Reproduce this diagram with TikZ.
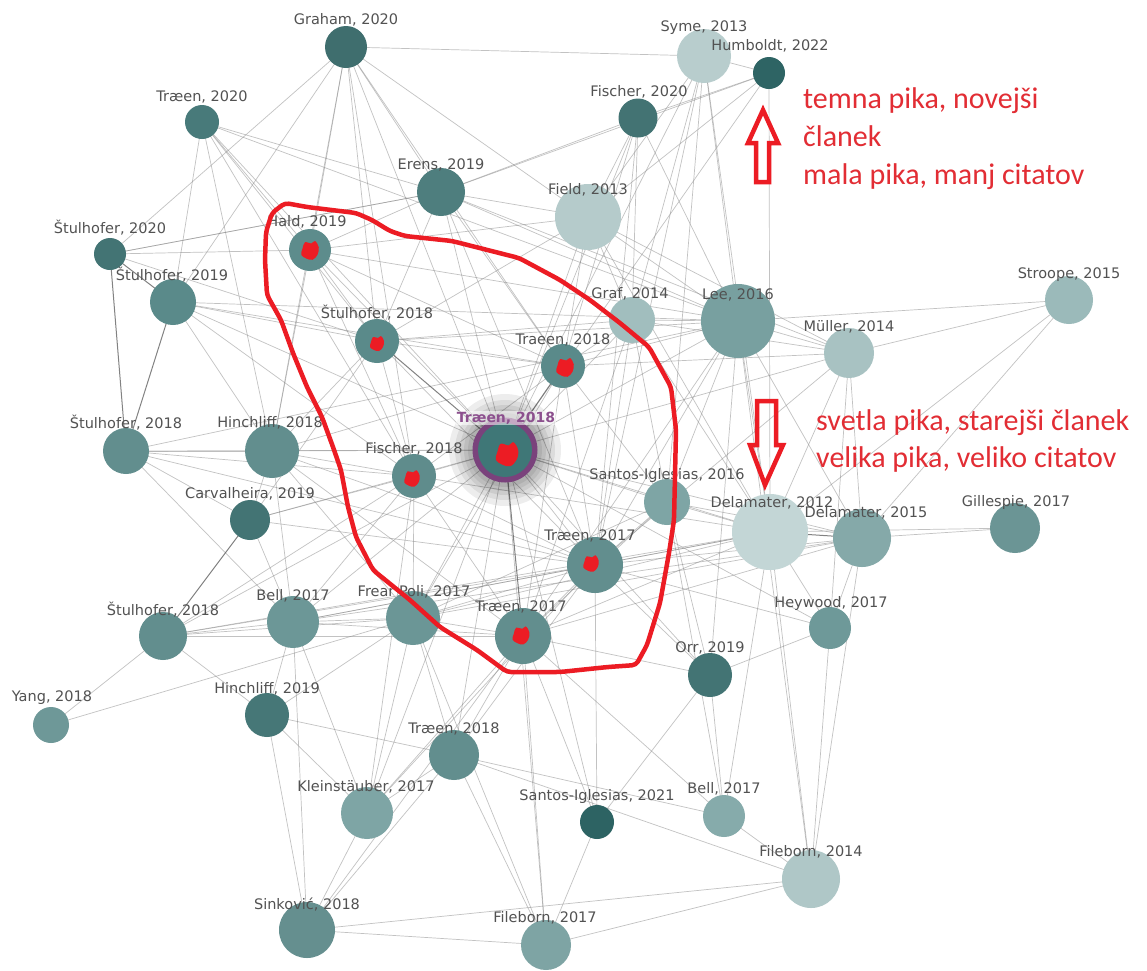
\documentclass[tikz,border=0pt]{standalone}
\usepackage{fontspec}
\setmainfont{DejaVu Sans}
\newfontfamily\redfont{Carlito}
\usetikzlibrary{backgrounds}
\definecolor{lbltxt}{RGB}{82,82,82}
\definecolor{redline}{RGB}{236,28,36}
\definecolor{redtxt}{RGB}{226,45,52}
\definecolor{ringpurple}{RGB}{122,66,124}
\definecolor{cenpurple}{RGB}{140,80,142}
\definecolor{edgegray}{RGB}{135,135,135}
\definecolor{cencol}{HTML}{3F7777}
\newcommand\pn[5]{\definecolor{col#1}{HTML}{#5}\node[pnode, minimum size=#4*2pt, fill=col#1] (#1) at (#2,#3) {};}
\newcommand\pl[4]{\node[lbl] (#1l) at (#2,#3) {#4};}
\newcommand\blob[3]{\begin{scope}[shift={(#1,#2)}, scale=#3]
 \fill[redline] plot[smooth cycle, tension=.6] coordinates {(-6,-2) (-4,-7) (1,-6) (4,-8) (7,-3) (6,3) (2,7) (-3,6) (-7,3)};
 \end{scope}}
\begin{document}
\begin{tikzpicture}[x=1pt,y=-1pt,
  pnode/.style={circle, inner sep=0pt, draw=none},
  lbl/.style={text=lbltxt, font=\fontsize{14.5}{17}\selectfont, inner sep=0pt},
  edge/.style={draw=edgegray, opacity=.5, line width=.7pt},
  darkedge/.style={draw=black!65, opacity=.75, line width=1pt},
  redtext/.style={anchor=base west, text=redtxt, font=\redfont\fontsize{30}{37}\selectfont, inner sep=0pt},
  redstroke/.style={draw=redline, line width=4.5pt, line join=miter}]
\useasboundingbox (0,0) rectangle (1147,970);
% nodes
\pn{gra}{346}{47}{21}{3F6E6E}
\pn{trz}{202}{122}{17}{487A7A}
\pn{sym}{704}{56}{27}{B8CDCD}
\pn{hum}{769}{73}{16}{2E6464}
\pn{fiz}{638}{118}{19.5}{437373}
\pn{ere}{441}{192}{24}{4E7E7E}
\pn{fie}{588}{217}{33}{B5CBCB}
\pn{stz}{110}{254}{16}{437474}
\pn{hal}{310}{250}{21}{5D8C8C}
\pn{stn}{173}{302}{23}{5A8A8A}
\pn{sta}{377}{341}{22}{5A8A8A}
\pn{grf}{632}{320}{23}{A1BEBE}
\pn{lee}{738}{321}{37}{78A0A0}
\pn{str}{1069}{300}{24}{9BBABA}
\pn{mul}{849}{353}{25}{A8C2C2}
\pn{tra}{563}{366}{22}{5A8A8A}
\pn{stb}{126}{451}{23}{628E8E}
\pn{hia}{272}{451}{27}{628E8E}
\pn{fia}{414}{476}{22}{5F8C8C}
\pn{saa}{667}{502}{23}{7EA5A5}
\pn{car}{250}{520}{20}{437474}
\pn{dea}{770}{532}{38}{C3D6D6}
\pn{deb}{862}{538}{29}{85A9A9}
\pn{gil}{1015}{528}{25}{6B9595}
\pn{tqa}{595}{565}{28}{628E8E}
\pn{stc}{163}{636}{24}{628E8E}
\pn{bea}{293}{622}{26}{6C9797}
\pn{fre}{413}{618}{27}{6B9696}
\pn{tqb}{523}{636}{28}{628E8E}
\pn{hey}{830}{628}{21}{6E9999}
\pn{orr}{710}{675}{22}{437474}
\pn{yan}{51}{725}{18}{6E9898}
\pn{hib}{267}{715}{22}{467777}
\pn{trc}{454}{755}{25}{628E8E}
\pn{kle}{367}{813}{26}{7EA5A5}
\pn{sab}{597}{822}{17}{2D6363}
\pn{beb}{724}{816}{21}{86ABAB}
\pn{fib}{811}{879}{29}{AFC7C7}
\pn{sin}{307}{930}{28}{658F8F}
\pn{fic}{546}{945}{25}{7EA4A4}
% central node with purple ring
\node[pnode, minimum size=65pt, fill=ringpurple] (cenring) at (505,450) {};
\node[pnode, minimum size=54pt, fill=cencol] (cen) at (505,450) {};
% edges and glow on background
\begin{scope}[on background layer]
\fill[white] (0,0) rectangle (1147,970);
\foreach \a/\b in {gra/stz,gra/stn,gra/hal,gra/sta,gra/cen,gra/tra,gra/ere,gra/fie,gra/sym,gra/hia,gra/fia,
 trz/stn,trz/hia,trz/hal,trz/fia,trz/cen,trz/lee,trz/ere,trz/sta,
 sym/fie,sym/lee,sym/grf,sym/dea,sym/saa,sym/cen,sym/hum,sym/tqa,
 hum/fiz,hum/fie,hum/dea,hum/cen,hum/ere,
 fiz/ere,fiz/grf,fiz/tra,fiz/cen,fiz/tqa,fiz/fie,fiz/lee,
 ere/hal,ere/fie,ere/sta,ere/lee,ere/mul,ere/cen,ere/tra,ere/tqa,ere/stz,
 fie/lee,fie/mul,fie/tra,fie/grf,fie/cen,fie/dea,fie/sta,fie/hal,
 stz/hal,stz/sta,stz/ere,
 hal/sta,hal/cen,hal/fia,hal/tra,hal/hia,hal/lee,
 stn/sta,stn/hia,stn/cen,stn/tra,stn/fia,stn/lee,
 sta/fia,sta/tra,sta/hia,sta/car,sta/tqa,sta/lee,sta/grf,
 grf/cen,grf/tra,grf/tqa,grf/dea,grf/lee,grf/saa,grf/tqb,
 lee/cen,lee/tra,lee/mul,lee/dea,lee/deb,lee/saa,lee/tqa,lee/tqb,lee/orr,lee/str,lee/fib,
 str/mul,str/dea,str/deb,
 mul/dea,mul/deb,mul/hey,mul/tqa,mul/grf,mul/cen,mul/tra,
 tra/fia,tra/tqa,tra/tqb,tra/saa,tra/hia,tra/fre,
 cen/fia,cen/hia,cen/stb,cen/car,cen/bea,cen/fre,cen/tqa,cen/saa,cen/dea,cen/deb,cen/hey,cen/orr,cen/trc,cen/kle,cen/stc,cen/fic,cen/sab,
 stb/hia,stb/car,stb/fia,stb/bea,stb/lee,stb/tqa,
 hia/fia,hia/car,hia/bea,hia/fre,hia/tqa,hia/tqb,
 fia/car,fia/fre,fia/tqb,fia/tqa,fia/bea,fia/stc,fia/kle,fia/dea,
 saa/tqa,saa/dea,saa/deb,saa/tqb,saa/fre,saa/orr,saa/beb,
 car/bea,car/tqa,
 dea/gil,dea/tqa,dea/tqb,dea/hey,dea/beb,dea/fib,dea/fre,dea/bea,dea/stc,
 deb/gil,deb/tqa,deb/hey,deb/fib,deb/tqb,deb/bea,deb/fre,
 tqa/tqb,tqa/fre,tqa/bea,tqa/stc,tqa/trc,tqa/orr,tqa/kle,tqa/hey,
 stc/bea,stc/fre,stc/yan,stc/tqb,stc/hib,
 bea/fre,bea/tqb,bea/hib,bea/kle,bea/sin,
 fre/tqb,fre/trc,fre/kle,fre/hib,fre/fic,
 tqb/trc,tqb/kle,tqb/sin,tqb/orr,tqb/fic,tqb/beb,tqb/sab,
 hey/fib,hey/orr,orr/beb,orr/sab,yan/fre,
 hib/kle,hib/sin,hib/trc,
 trc/kle,trc/sin,trc/fic,trc/fib,trc/beb,
 kle/sin,sab/fic,sab/tqa,beb/fib,fib/sin,fib/fic,sin/fic}
  \draw[edge] (\a.center) -- (\b.center);
\foreach \a/\b in {stz/stn,stz/stb,stn/stb,car/stc,dea/deb,cen/tqb,cen/sta,cen/tra}
  \draw[darkedge] (\a.center) -- (\b.center);
\foreach \r in {56,50,45,41,37}
  \fill[black, opacity=.07] (cen.center) circle (\r);
\end{scope}
% labels
\pl{gra}{346}{20}{Graham, 2020}
\pl{trz}{202}{97}{Træen, 2020}
\pl{sym}{704}{28}{Syme, 2013}
\pl{hum}{770}{46}{Humboldt, 2022}
\pl{fiz}{639}{92}{Fischer, 2020}
\pl{ere}{441}{165}{Erens, 2019}
\pl{fie}{588}{190}{Field, 2013}
\pl{stz}{110}{228}{Štulhofer, 2020}
\pl{hal}{307}{222}{Hald, 2019}
\pl{stn}{172}{275}{Štulhofer, 2019}
\pl{sta}{377}{313}{Štulhofer, 2018}
\pl{grf}{630}{294}{Graf, 2014}
\pl{lee}{738}{295}{Lee, 2016}
\pl{str}{1069}{275}{Stroope, 2015}
\pl{mul}{849}{327}{Müller, 2014}
\pl{tra}{563}{340}{Traeen, 2018}
\pl{stb}{126}{423}{Štulhofer, 2018}
\pl{hia}{270}{423}{Hinchliff, 2018}
\pl{fia}{414}{449}{Fischer, 2018}
\pl{saa}{667}{475}{Santos-Iglesias, 2016}
\pl{car}{250}{494}{Carvalheira, 2019}
\pl{dea}{772}{503}{Delamater, 2012}
\pl{deb}{866}{513}{Delamater, 2015}
\pl{gil}{1016}{502}{Gillespie, 2017}
\pl{tqa}{590}{536}{Træen, 2017}
\pl{stc}{163}{610}{Štulhofer, 2018}
\pl{bea}{293}{596}{Bell, 2017}
\pl{fre}{414}{592}{Frear Poli, 2017}
\pl{tqb}{521}{607}{Træen, 2017}
\pl{hey}{831}{603}{Heywood, 2017}
\pl{orr}{710}{648}{Orr, 2019}
\pl{yan}{52}{698}{Yang, 2018}
\pl{hib}{267}{689}{Hinchliff, 2019}
\pl{trc}{454}{729}{Træen, 2018}
\pl{kle}{366}{787}{Kleinstäuber, 2017}
\pl{sab}{597}{796}{Santos-Iglesias, 2021}
\pl{beb}{724}{789}{Bell, 2017}
\pl{fib}{811}{852}{Fileborn, 2014}
\pl{sin}{307}{905}{Sinković, 2018}
\pl{fic}{545}{918}{Fileborn, 2017}
\node[text=cenpurple, font=\bfseries\fontsize{14}{17}\selectfont, fill=white, fill opacity=.55, text opacity=1, inner sep=1pt] (cenl) at (506,418) {Træen, 2018};
% red blobs
\blob{310}{251}{1.25}
\blob{377}{344}{1.0}
\blob{565}{368}{1.25}
\blob{507}{455}{1.6}
\blob{412}{479}{1.1}
\blob{591}{564}{1.1}
\blob{521}{636}{1.2}
% red outline
\draw[draw=redline, line width=4.5pt, line join=round, rounded corners=4pt]
 (285,203) -- (307,207) -- (356,213) -- (372,220) -- (390,231) -- (405,236) -- (452,241) -- (519,258) -- (560,280) -- (590,300) -- (620,323) -- (649,347) -- (671,387) -- (676,430) -- (674,520) -- (669,553) -- (660,603) -- (647,645) -- (636,665) -- (608,667) -- (560,672) -- (507,672) -- (477,650) -- (440,627) -- (410,600) -- (373,570) -- (356,537) -- (348,507) -- (341,470) -- (333,447) -- (322,417) -- (307,387) -- (293,353) -- (281,320) -- (267,295) -- (265,260) -- (266,232) -- (272,213) -- cycle;
% red arrows
\draw[redstroke] (763,110) -- (778,143) -- (769,143) -- (769,182) -- (756,182) -- (756,143) -- (748,143) -- cycle;
\draw[redstroke] (757,401) -- (776,401) -- (776,445) -- (783,445) -- (765,485) -- (750,445) -- (757,445) -- cycle;
% red text
\node[redtext] (t1) at (803,108) {temna pika, novejši};
\node[redtext] (t2) at (803,146) {članek};
\node[redtext] (t3) at (803,184) {mala pika, manj citatov};
\node[redtext] (t4) at (816,430) {svetla pika, starejši članek};
\node[redtext] (t5) at (816,467) {velika pika, veliko citatov};
\end{tikzpicture}
\end{document}
